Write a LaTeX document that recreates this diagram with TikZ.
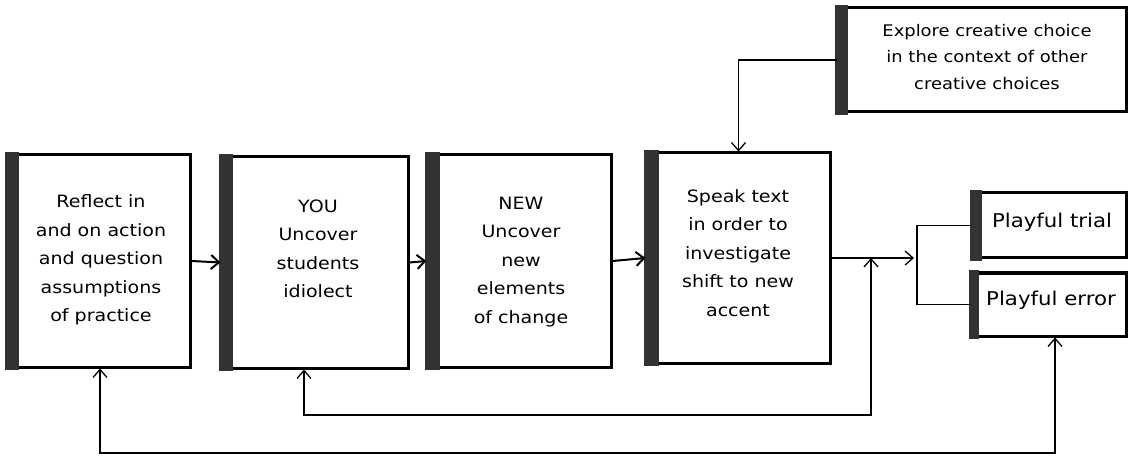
\documentclass[tikz,border=0pt]{standalone}
\usepackage{fontspec}
\setmainfont{DejaVu Sans}[FakeStretch=1.12]
\usetikzlibrary{arrows.meta,calc}
\definecolor{barc}{HTML}{333333}
\begin{document}
\begin{tikzpicture}[x=1pt,y=-1pt,
  box/.style={draw=black,line width=3pt,inner sep=0pt,fill=white},
  txt/.style={align=center,inner sep=0pt,font=\fontsize{17}{28.5}\selectfont},
  tip/.tip={Straight Barb[length=8pt,width=14pt]},
  conn/.style={line width=2pt,-tip},
  loop/.style={line width=1.3pt,tip-tip},
  thinline/.style={line width=1.3pt}]
\useasboundingbox (0,0) rectangle (1129,462);
% boxes
\node[box,minimum width=182pt,minimum height=212pt] (b1) at (99,261) {};
\node[box,minimum width=186pt,minimum height=211pt] (b2) at (315,262.5) {};
\node[box,minimum width=183pt,minimum height=212pt] (b3) at (519.5,261) {};
\node[box,minimum width=183pt,minimum height=210pt] (b4) at (738.5,258) {};
\node[box,minimum width=288pt,minimum height=104pt] (ex) at (982,60) {};
\node[box,minimum width=153pt,minimum height=65pt] (pt) at (1049.5,225.5) {};
\node[box,minimum width=154pt,minimum height=63pt] (pe) at (1049,304.5) {};
% dark bars
\fill[barc] ($(b1.north west)+(-1.5,-1.5)$) rectangle ($(b1.south west)+(12,1.5)$);
\fill[barc] ($(b2.north west)+(-1.5,-1.5)$) rectangle ($(b2.south west)+(12,1.5)$);
\fill[barc] ($(b3.north west)+(-1.5,-1.5)$) rectangle ($(b3.south west)+(13,1.5)$);
\fill[barc] ($(b4.north west)+(-1.5,-1.5)$) rectangle ($(b4.south west)+(13,1.5)$);
\fill[barc] ($(ex.north west)+(-1.5,-1.5)$) rectangle ($(ex.south west)+(11,1.5)$);
\fill[barc] ($(pt.north west)+(-1.5,-1.5)$) rectangle ($(pt.south west)+(10,1.5)$);
\fill[barc] ($(pe.north west)+(-1.5,-1.5)$) rectangle ($(pe.south west)+(8,1.5)$);
% texts
\node[txt] (t1) at (101,260) {Reflect in\\and on action\\and question\\assumptions\\of practice};
\node[txt] (t2) at (318,249) {YOU\\Uncover\\students\\idiolect};
\node[txt] (t3) at (521,262) {NEW\\Uncover\\new\\elements\\of change};
\node[txt] (t4) at (738,253) {Speak text\\in order to\\investigate\\shift to new\\accent};
\node[txt,font=\fontsize{16}{26.5}\selectfont] (tex) at (987,57) {Explore creative choice\\in the context of other\\creative choices};
\node[txt,font=\fontsize{19}{24}\selectfont] (tpt) at (1052,222) {Playful trial};
\node[txt,font=\fontsize{19}{24}\selectfont] (tpe) at (1051,300) {Playful error};
% connectors
\draw[conn] (b1.east) -- (b2.west);
\draw[conn] (b2.east) -- (b3.west);
\draw[conn] (b3.east) -- (b4.west);
\draw[thinline,-tip] (ex.west) -| (b4.north);
\coordinate (sp) at (917,258);
\draw[thinline,-tip,shorten >=3pt] (b4.east) -- (sp);
\draw[thinline] (pt.west) -| (sp) |- (pe.west);
\coordinate (m) at (871,258);
\coordinate (c1) at (871,415);
\coordinate (c2) at (1055,453);
\draw[loop] ($(b2.south)+(-11,0)$) |- (c1) -- (m);
\draw[loop] ($(b1.south)+(1,0)$) |- (c2) -- ($(pe.south)+(6,0)$);
\end{tikzpicture}
\end{document}
